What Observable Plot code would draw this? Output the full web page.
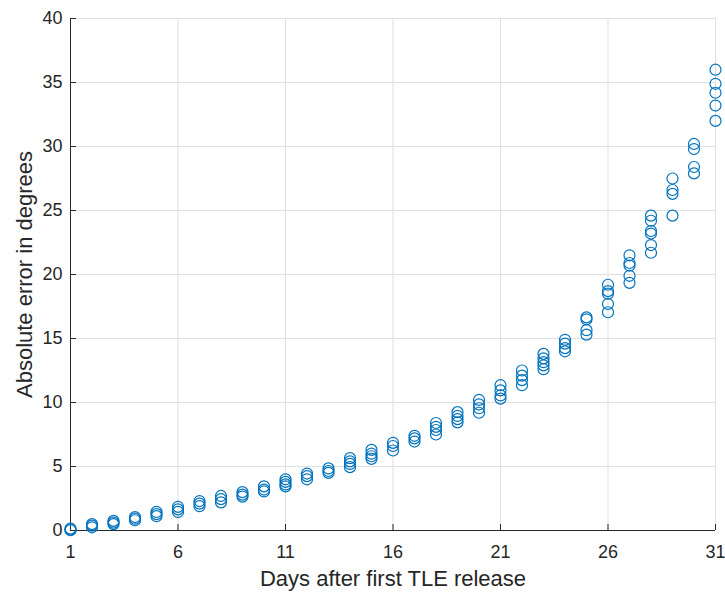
<!DOCTYPE html>
<html>
<head>
<meta charset="utf-8">
<script src="https://cdn.jsdelivr.net/npm/d3@7"></script>
<script src="https://cdn.jsdelivr.net/npm/@observablehq/plot@0.6"></script>
<style>
  body { margin: 0; background: #ffffff; }
  #chart svg { display: block; }
</style>
</head>
<body>
<div id="chart"></div>
<script>
// Tick values
const xTicks = [1, 6, 11, 16, 21, 26, 31];
const yTicks = [0, 5, 10, 15, 20, 25, 30, 35, 40];

// Days after first TLE release
const days = [1,2,3,4,5,6,7,8,9,10,11,12,13,14,15,16,17,18,19,20,21,22,23,24,25,26,27,28,29,30,31];

// Absolute error (degrees) observed for each day
const errorsByDay = [
  [0.15, 0.08, 0.02],
  [0.5, 0.38, 0.25],
  [0.75, 0.62, 0.5],
  [1.05, 0.92, 0.8],
  [1.45, 1.28, 1.12],
  [1.85, 1.65, 1.45],
  [2.3, 2.1, 1.9],
  [2.7, 2.45, 2.2],
  [3.0, 2.8, 2.65],
  [3.45, 3.2, 3.05],
  [4.0, 3.8, 3.6, 3.45],
  [4.45, 4.25, 4.0],
  [4.85, 4.65, 4.5],
  [5.65, 5.4, 5.2, 4.95],
  [6.3, 6.0, 5.8, 5.6],
  [6.85, 6.6, 6.25],
  [7.4, 7.2, 6.95],
  [8.4, 8.1, 7.85, 7.5],
  [9.25, 8.95, 8.7, 8.45],
  [10.2, 9.85, 9.55, 9.2],
  [11.35, 10.95, 10.55, 10.3],
  [12.5, 12.1, 11.75, 11.35],
  [13.8, 13.45, 13.15, 12.9, 12.6],
  [14.9, 14.6, 14.25, 14.0],
  [16.65, 16.5, 15.65, 15.3],
  [19.2, 18.7, 18.5, 17.7, 17.05],
  [21.5, 20.9, 20.7, 19.9, 19.35],
  [24.6, 24.2, 23.4, 23.2, 22.3, 21.7],
  [27.5, 26.6, 26.3, 24.6],
  [30.2, 29.8, 28.4, 27.9],
  [36.0, 34.9, 34.2, 33.2, 32.0]
];

const xLabel = "Days after first TLE release";
const yLabel = "Absolute error in degrees";

const points = days.flatMap((d, i) => errorsByDay[i].map(e => ({day: d, err: e})));

const textColor = "#262626";
const gridColor = "#dfdfdf";
const dotColor = "#0072BD";

const chart = Plot.plot({
  width: 725,
  height: 592,
  marginLeft: 70,
  marginRight: 10,
  marginTop: 18,
  marginBottom: 62,
  style: {
    fontFamily: "'Liberation Sans', Arial, Helvetica, sans-serif",
    fontSize: "18px",
    color: textColor,
    background: "#ffffff"
  },
  x: {domain: [1, 31], ticks: xTicks},
  y: {domain: [0, 40], ticks: yTicks},
  marks: [
    Plot.gridX(xTicks, {stroke: gridColor, strokeOpacity: 1}),
    Plot.gridY(yTicks, {stroke: gridColor, strokeOpacity: 1}),
    Plot.axisX(xTicks, {tickSize: 0, tickPadding: 15, label: null, fill: textColor, fontSize: 18}),
    Plot.axisY(yTicks, {tickSize: 0, tickPadding: 8, label: null, fill: textColor, fontSize: 18}),
    Plot.tickX(xTicks, {x: d => d, insetTop: 506, stroke: textColor}),
    Plot.tickY(yTicks, {y: d => d, insetRight: 639, stroke: textColor}),
    Plot.ruleY([0], {stroke: textColor}),
    Plot.ruleX([1], {stroke: textColor}),
    Plot.dot(points, {x: "day", y: "err", r: 5.5, stroke: dotColor, strokeWidth: 1.2, fill: "none"}),
    Plot.text([xLabel], {frameAnchor: "bottom", lineAnchor: "bottom", textAnchor: "middle", dy: 55, fontSize: 22, fill: textColor}),
    Plot.text([yLabel], {frameAnchor: "left", textAnchor: "middle", lineAnchor: "middle", rotate: -90, dx: -46, fontSize: 22, fill: textColor})
  ]
});

document.getElementById("chart").appendChild(chart);
</script>
</body>
</html>
